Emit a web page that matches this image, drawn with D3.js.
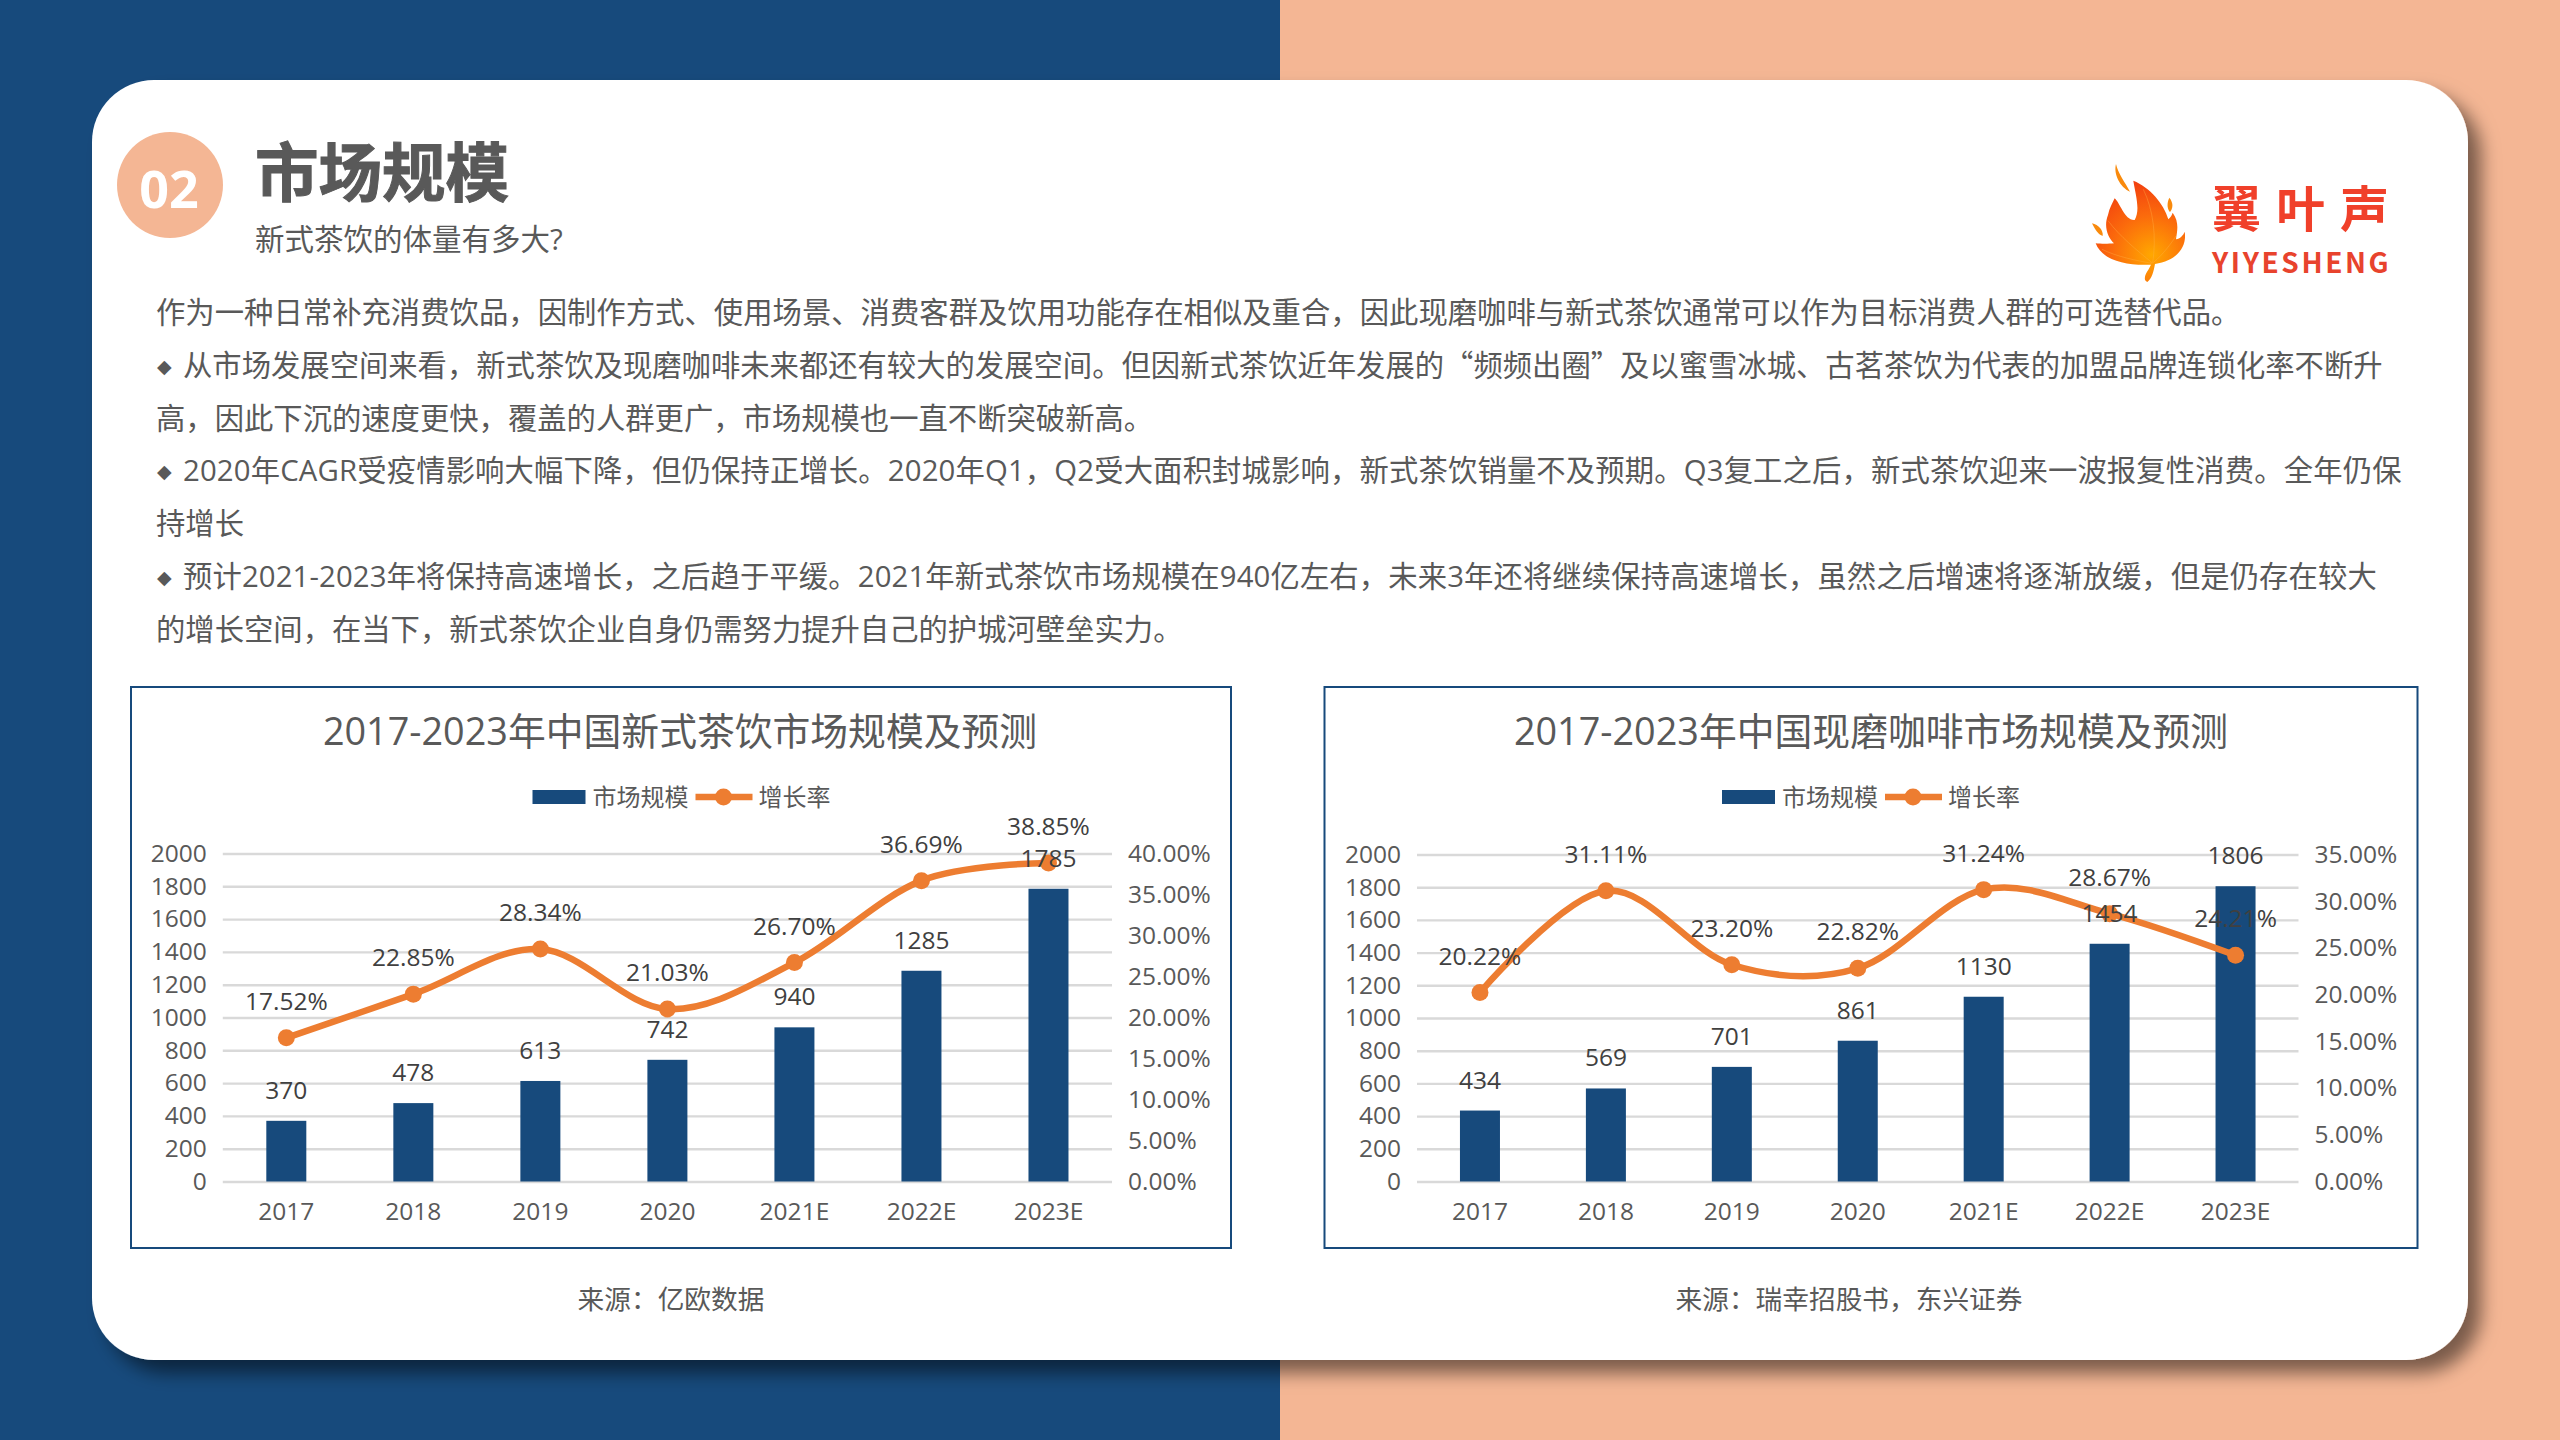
<!DOCTYPE html>
<html>
<head>
<meta charset="utf-8">
<script src="https://cdn.jsdelivr.net/npm/d3@7"></script>
<style>
  html, body { margin: 0; padding: 0; background: #fff; }
  svg { display: block; }
  text { font-family: "Open Sans", "Noto Sans CJK SC", sans-serif; fill: #595959; }
</style>
</head>
<body>
<div id="slide"></div>
<script>
// chart data
var years = ["2017", "2018", "2019", "2020", "2021E", "2022E", "2023E"];
var teaSize = [370, 478, 613, 742, 940, 1285, 1785];
var teaGrowth = [17.52, 22.85, 28.34, 21.03, 26.70, 36.69, 38.85];
var coffeeSize = [434, 569, 701, 861, 1130, 1454, 1806];
var coffeeGrowth = [20.22, 31.11, 23.20, 22.82, 31.24, 28.67, 24.21];
var sizeTicks = [0, 200, 400, 600, 800, 1000, 1200, 1400, 1600, 1800, 2000];
var teaRateTicks = [0, 5, 10, 15, 20, 25, 30, 35, 40];
var coffeeRateTicks = [0, 5, 10, 15, 20, 25, 30, 35];
var legendNames = ["市场规模", "增长率"];

var bodyLines = [
  "作为一种日常补充消费饮品，因制作方式、使用场景、消费客群及饮用功能存在相似及重合，因此现磨咖啡与新式茶饮通常可以作为目标消费人群的可选替代品。",
  "从市场发展空间来看，新式茶饮及现磨咖啡未来都还有较大的发展空间。但因新式茶饮近年发展的“频频出圈”及以蜜雪冰城、古茗茶饮为代表的加盟品牌连锁化率不断升",
  "高，因此下沉的速度更快，覆盖的人群更广，市场规模也一直不断突破新高。",
  "2020年CAGR受疫情影响大幅下降，但仍保持正增长。2020年Q1，Q2受大面积封城影响，新式茶饮销量不及预期。Q3复工之后，新式茶饮迎来一波报复性消费。全年仍保",
  "持增长",
  "预计2021-2023年将保持高速增长，之后趋于平缓。2021年新式茶饮市场规模在940亿左右，未来3年还将继续保持高速增长，虽然之后增速将逐渐放缓，但是仍存在较大",
  "的增长空间，在当下，新式茶饮企业自身仍需努力提升自己的护城河壁垒实力。"
];
var bulletLines = [1, 3, 5];
var bodySpacing = [0.03, 0, 0, 0.15, 0, 0.12, 0];

var blue = "#174A7C", peach = "#F4B694", orange = "#ED7D31", grey = "#595959";

var svg = d3.select("#slide").append("svg")
    .attr("width", 2560)
    .attr("height", 1440);
var defs = svg.append("defs");

// card shadow
var shadow = defs.append("filter").attr("id", "cardShadow")
    .attr("x", "-5%").attr("y", "-5%").attr("width", "110%").attr("height", "110%");
shadow.append("feDropShadow")
    .attr("dx", 13).attr("dy", 13).attr("stdDeviation", 9)
    .attr("flood-color", "#000").attr("flood-opacity", 0.5);

// flame gradient for the logo
var flame = defs.append("radialGradient").attr("id", "flameFill")
    .attr("gradientUnits", "userSpaceOnUse")
    .attr("cx", 335).attr("cy", 375).attr("r", 220);
flame.append("stop").attr("offset", "0%").attr("stop-color", "#FFA800");
flame.append("stop").attr("offset", "55%").attr("stop-color", "#FB6A0C");
flame.append("stop").attr("offset", "100%").attr("stop-color", "#F2410F");

// background and card
svg.append("rect").attr("width", 1280).attr("height", 1440).attr("fill", blue);
svg.append("rect").attr("x", 1280).attr("width", 1280).attr("height", 1440).attr("fill", peach);
svg.append("rect")
    .attr("x", 92).attr("y", 80).attr("width", 2376).attr("height", 1280)
    .attr("rx", 62).attr("ry", 62)
    .attr("fill", "#fff")
    .attr("filter", "url(#cardShadow)");

// header
svg.append("circle").attr("cx", 170).attr("cy", 185).attr("r", 53).attr("fill", peach);
svg.append("text").attr("x", 169).attr("y", 208)
    .attr("text-anchor", "middle")
    .style("fill", "#fff").style("font-size", "52px").style("font-weight", 700)
    .text("02");
svg.append("text").attr("x", 255).attr("y", 196)
    .style("font-size", "63.5px").style("font-weight", 700)
    .style("font-family", "'Noto Sans CJK SC'")
    .style("stroke", grey).style("stroke-width", 1)
    .text("市场规模");
svg.append("text").attr("x", 255).attr("y", 250)
    .style("font-size", "29.5px")
    .text("新式茶饮的体量有多大?");

// body text, quotes come from the CJK font so they stay full width
var bodyText = svg.selectAll(".body-line")
  .data(bodyLines)
  .enter()
  .append("text")
    .attr("class", "body-line")
    .attr("x", function(d, i) { return bulletLines.indexOf(i) >= 0 ? 183 : 156; })
    .attr("y", function(d, i) { return 323 + i * 52.8; })
    .style("font-size", "29.33px")
    .style("letter-spacing", function(d, i) { return bodySpacing[i] + "px"; });
bodyText.selectAll("tspan")
  .data(function(d) { return d.split(/([“”])/); })
  .enter()
  .append("tspan")
    .style("font-family", function(d) { return /[“”]/.test(d) ? "'Noto Sans CJK SC'" : null; })
    .text(function(d) { return d; });
svg.selectAll(".bullet")
  .data(bulletLines)
  .enter()
  .append("text")
    .attr("class", "bullet")
    .attr("x", 157)
    .attr("y", function(d) { return 323 + d * 52.8 - 3; })
    .style("font-family", "'DejaVu Sans'")
    .style("font-size", "19px")
    .text("◆");

// logo, traced in 3x coordinates of the crop
var logo = svg.append("g").attr("transform", "translate(2040,130) scale(0.3333)");
logo.append("path")
    .attr("fill", "url(#flameFill)")
    .attr("d", "M280 152C330 172 372 222 385 268C392 262 396 255 398 248C418 275 412 302 408 328C420 326 430 316 434 305C442 352 410 392 345 402C341 425 336 445 322 456C308 450 316 432 326 418L333 404C262 408 186 392 167 340C182 342 206 342 222 340C204 322 190 290 204 255C208 235 218 218 224 205C240 218 254 272 284 270C302 240 286 192 280 152Z");
logo.append("path")
    .attr("fill", "#F98A0C")
    .attr("d", "M228 102C234 130 256 158 270 185C240 172 220 132 228 102Z");
logo.append("path")
    .attr("fill", "#F98A0C")
    .attr("d", "M388 203C378 224 384 240 390 246C398 236 402 220 388 203Z");
logo.append("path")
    .attr("fill", "#F98A0C")
    .attr("d", "M156 280C166 300 176 315 188 318C190 300 176 285 156 280Z");
logo.selectAll(".vein")
  .data(["M338 400C350 320 340 240 310 178", "M336 398C290 360 240 320 204 272", "M336 400C290 392 230 380 186 358", "M340 398C370 372 394 340 408 318"])
  .enter()
  .append("path")
    .attr("fill", "none")
    .attr("stroke", "#FFB347")
    .attr("stroke-opacity", 0.55)
    .attr("stroke-width", 2)
    .attr("d", function(d) { return d; });
svg.append("text").attr("x", 2212).attr("y", 227)
    .style("fill", "#F0402A").style("font-size", "49px").style("font-weight", 700)
    .style("font-family", "'Noto Sans CJK SC'").style("letter-spacing", "15px")
    .text("翼叶声");
svg.append("text").attr("x", 2212).attr("y", 273)
    .style("fill", "#E8432D").style("font-size", "28px").style("font-weight", 700)
    .style("font-family", "'Noto Sans CJK SC'").style("letter-spacing", "2.6px")
    .text("YIYESHENG");

// one framed combo chart
function drawChart(o) {
  var g = svg.append("g");

  g.append("rect")
      .attr("x", o.frame[0]).attr("y", 687)
      .attr("width", o.frame[1] - o.frame[0]).attr("height", 561)
      .attr("fill", "none").attr("stroke", blue).attr("stroke-width", 2);

  g.append("text").attr("x", o.titleX).attr("y", 744.5)
      .attr("text-anchor", "middle")
      .style("font-size", "37.8px")
      .text(o.title);

  var x = d3.scaleBand().domain(years).range([o.left, o.right]);
  var y = d3.scaleLinear().domain([0, 2000]).range([1181.5, o.top]);
  var yRate = d3.scaleLinear().domain([0, o.rateMax]).range([1181.5, o.top]);

  // left axis carries the gridlines
  var leftAxis = g.append("g")
      .attr("transform", "translate(" + o.left + ",0)")
      .call(d3.axisLeft(y).tickValues(sizeTicks).tickSize(-(o.right - o.left)).tickPadding(16)
        .tickFormat(function(d) { return d; }));
  leftAxis.select(".domain").remove();
  leftAxis.selectAll("line").attr("stroke", "#D9D9D9").attr("stroke-width", 2.4);
  leftAxis.selectAll("text").style("font-size", "24.5px");

  var rightAxis = g.append("g")
      .attr("transform", "translate(" + o.right + ",0)")
      .call(d3.axisRight(yRate).tickValues(o.rateTicks).tickSize(0).tickPadding(16)
        .tickFormat(function(d) { return d.toFixed(2) + "%"; }));
  rightAxis.select(".domain").remove();
  rightAxis.selectAll("text").style("font-size", "24.5px");

  var bottomAxis = g.append("g")
      .attr("transform", "translate(0,1181.5)")
      .call(d3.axisBottom(x).tickSize(0).tickPadding(21));
  bottomAxis.select(".domain").remove();
  bottomAxis.selectAll("text").style("font-size", "24.5px");

  // bars
  g.selectAll(".bar")
    .data(o.size)
    .enter()
    .append("rect")
      .attr("class", "bar")
      .attr("x", function(d, i) { return x(years[i]) + x.bandwidth() / 2 - 20; })
      .attr("y", function(d) { return y(d); })
      .attr("width", 40)
      .attr("height", function(d) { return 1181.5 - y(d); })
      .attr("fill", blue);

  // smoothed growth line
  var line = d3.line()
      .x(function(d, i) { return x(years[i]) + x.bandwidth() / 2; })
      .y(function(d) { return yRate(d); })
      .curve(d3.curveCatmullRom.alpha(0));
  g.append("path")
      .attr("d", line(o.growth))
      .attr("fill", "none")
      .attr("stroke", orange)
      .attr("stroke-width", 6.5);
  g.selectAll(".dot")
    .data(o.growth)
    .enter()
    .append("circle")
      .attr("class", "dot")
      .attr("cx", function(d, i) { return x(years[i]) + x.bandwidth() / 2; })
      .attr("cy", function(d) { return yRate(d); })
      .attr("r", 8.5)
      .attr("fill", orange);

  // value labels
  g.selectAll(".size-label")
    .data(o.size)
    .enter()
    .append("text")
      .attr("class", "size-label")
      .attr("x", function(d, i) { return x(years[i]) + x.bandwidth() / 2; })
      .attr("y", function(d) { return y(d) - 22; })
      .attr("text-anchor", "middle")
      .style("font-size", "24.5px")
      .style("fill", "#404040")
      .text(function(d) { return d; });
  g.selectAll(".rate-label")
    .data(o.growth)
    .enter()
    .append("text")
      .attr("class", "rate-label")
      .attr("x", function(d, i) { return x(years[i]) + x.bandwidth() / 2; })
      .attr("y", function(d) { return yRate(d) - 28; })
      .attr("text-anchor", "middle")
      .style("font-size", "24.5px")
      .style("fill", "#404040")
      .text(function(d) { return d.toFixed(2) + "%"; });

  // legend
  var lx = o.legendX;
  g.append("rect").attr("x", lx).attr("y", 790).attr("width", 53).attr("height", 14).attr("fill", blue);
  g.append("text").attr("x", lx + 60).attr("y", 806).style("font-size", "24px").text(legendNames[0]);
  g.append("line")
      .attr("x1", lx + 163).attr("x2", lx + 220).attr("y1", 797).attr("y2", 797)
      .attr("stroke", orange).attr("stroke-width", 6.5);
  g.append("circle").attr("cx", lx + 191).attr("cy", 797).attr("r", 8.5).attr("fill", orange);
  g.append("text").attr("x", lx + 226).attr("y", 806).style("font-size", "24px").text(legendNames[1]);

  // source note
  g.append("text").attr("x", o.sourceX).attr("y", 1309)
      .attr("text-anchor", "middle")
      .style("font-size", "26.7px")
      .text(o.source);
}

drawChart({
  frame: [131, 1231], left: 222.8, right: 1112, top: 853.5,
  title: "2017-2023年中国新式茶饮市场规模及预测", titleX: 680,
  size: teaSize, growth: teaGrowth, rateMax: 40, rateTicks: teaRateTicks,
  legendX: 532.5, source: "来源：亿欧数据", sourceX: 671
});
drawChart({
  frame: [1324.5, 2417.5], left: 1417, right: 2298.5, top: 854.5,
  title: "2017-2023年中国现磨咖啡市场规模及预测", titleX: 1871,
  size: coffeeSize, growth: coffeeGrowth, rateMax: 35, rateTicks: coffeeRateTicks,
  legendX: 1722, source: "来源：瑞幸招股书，东兴证券", sourceX: 1849
});
</script>
</body>
</html>
